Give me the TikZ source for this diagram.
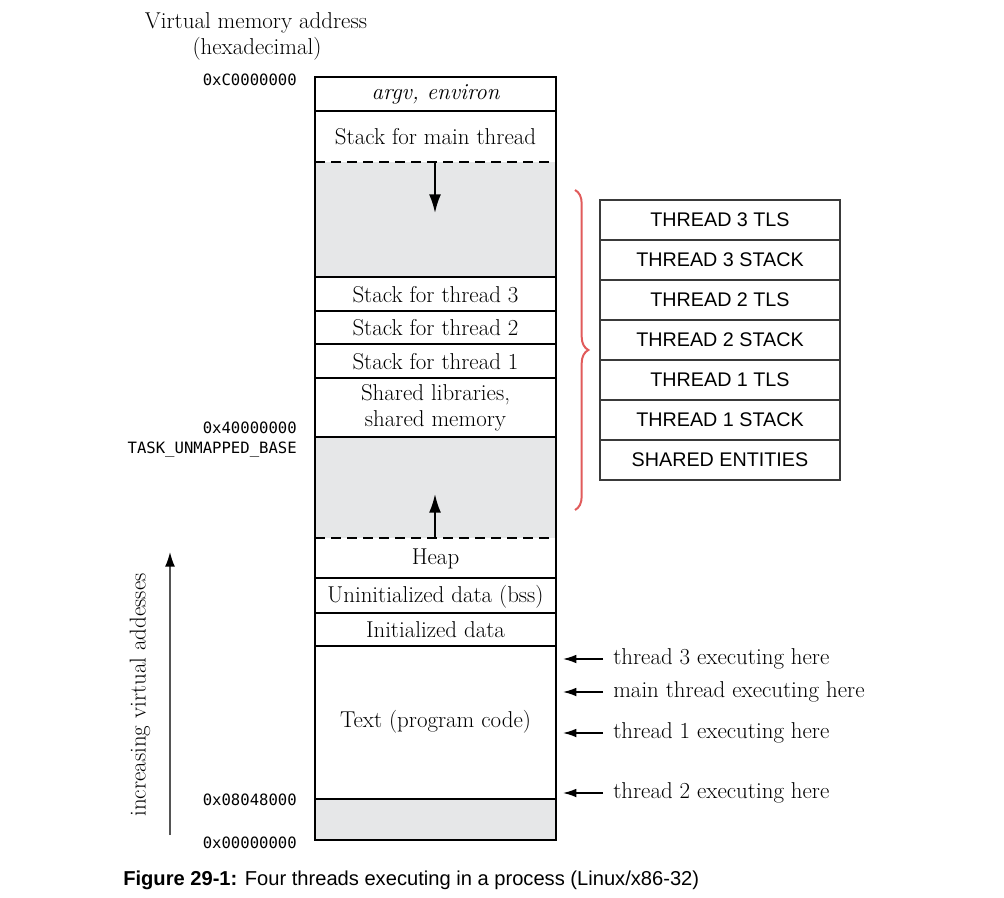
\documentclass[tikz,border=0pt]{standalone}
\usepackage{fontspec}
\setsansfont{Liberation Sans}
\setmonofont{DejaVu Sans Mono}
\usetikzlibrary{arrows.meta,decorations.pathreplacing}
\definecolor{segGray}{HTML}{E6E7E8}
\definecolor{braceRed}{HTML}{E15B5B}
\definecolor{boxLine}{HTML}{3A3A3A}
\definecolor{incGray}{HTML}{555555}
\begin{document}
\begin{tikzpicture}[x=0.75pt,y=-0.75pt,
  serif/.style={font=\fontsize{17.2}{19.5}\selectfont, inner sep=0pt, align=center},
  addr/.style={font=\ttfamily\fontsize{11.7}{14}\selectfont, anchor=east, inner sep=0pt},
  seg/.style={draw=black, line width=1.3pt},
  gapfill/.style={fill=segGray},
  dashline/.style={draw=black, line width=1.3pt, dash pattern=on 7.5pt off 4.5pt},
  tls/.style={draw=boxLine, line width=1.1pt, minimum width=180pt, minimum height=30pt, inner sep=0pt,
    font=\sffamily\fontsize{14.8}{17}\selectfont},
  arr/.style={-{Latex[length=10pt,width=6.5pt]}, line width=1.1pt},
  growarrow/.style={-{Latex[length=14pt,width=9pt]}, line width=1.5pt},
  incarr/.style={-{Latex[length=11pt,width=7.5pt,color=black]}, line width=1.2pt, draw=incGray},
  lbl/.style={font=\fontsize{17.2}{19}\selectfont, anchor=west, inner xsep=7.5pt, inner ysep=0pt}
]
\useasboundingbox (0,0) rectangle (1004,898);

% title
\node[serif] (title1) at (256,23) {Virtual memory address};
\node[serif] (title2) at (257,49) {(hexadecimal)};

% gray gaps
\fill[gapfill] (315,162) rectangle (556,277);
\fill[gapfill] (315,437) rectangle (556,538);
\fill[gapfill] (315,799) rectangle (556,840);

% column outline and separators
\draw[seg] (315,77) rectangle (556,840);
\draw[seg] (315,111) -- (556,111);
\draw[seg] (315,277) -- (556,277);
\draw[seg] (315,311) -- (556,311);
\draw[seg] (315,344) -- (556,344);
\draw[seg] (315,378) -- (556,378);
\draw[seg] (315,437) -- (556,437);
\draw[seg] (315,578) -- (556,578);
\draw[seg] (315,613) -- (556,613);
\draw[seg] (315,646) -- (556,646);
\draw[seg] (315,799) -- (556,799);
\draw[dashline] (315,162) -- (556,162);
\draw[dashline] (315,538) -- (556,538);

% segment texts
\node[serif] (argv) at (435.5,94) {\itshape argv, environ};
\node[serif] (mainstack) at (435.5,137) {Stack for main thread};
\node[serif] (st3) at (435.5,294.5) {Stack for thread 3};
\node[serif] (st2) at (435.5,328) {Stack for thread 2};
\node[serif] (st1) at (435.5,361.5) {Stack for thread 1};
\node[serif] (shlib) at (435.5,408) {Shared libraries,\\shared memory};
\node[serif] (heap) at (435.5,558.5) {Heap};
\node[serif] (bss) at (435.5,596.5) {Uninitialized data (bss)};
\node[serif] (idata) at (435.5,630) {Initialized data};
\node[serif] (text) at (435.5,722) {Text (program code)};

% growth arrows
\coordinate (downS) at (435,162);
\coordinate (downE) at (435,213);
\coordinate (upS) at (435,538);
\coordinate (upE) at (435,494);
\draw[growarrow] (downS) -- (downE);
\draw[growarrow] (upS) -- (upE);

% addresses
\node[addr] (aC) at (297,80) {0xC0000000};
\node[addr] (a4) at (297,428) {0x40000000};
\node[addr] (aT) at (297,450) {TASK\_UNMAPPED\_BASE};
\node[addr] (a08) at (297,800) {0x08048000};
\node[addr] (a00) at (297,843) {0x00000000};

% increasing addresses
\coordinate (incS) at (170,835);
\coordinate (incE) at (170,552);
\draw[incarr] (incS) -- (incE);
\node[serif, rotate=90] (inc) at (140,695) {increasing virtual addesses};

% brace
\draw[braceRed, line width=1.5pt, decorate, decoration={brace, amplitude=10pt, aspect=0.5}] (575,190) -- (575,510);

% TLS boxes
\node[tls] (b1) at (720,220) {THREAD 3 TLS};
\node[tls] (b2) at (720,260) {THREAD 3 STACK};
\node[tls] (b3) at (720,300) {THREAD 2 TLS};
\node[tls] (b4) at (720,340) {THREAD 2 STACK};
\node[tls] (b5) at (720,380) {THREAD 1 TLS};
\node[tls] (b6) at (720,420) {THREAD 1 STACK};
\node[tls] (b7) at (720,460) {SHARED ENTITIES};

% execution labels
\node[lbl] (l3) at (603,659) {thread 3 executing here};
\node[lbl] (lm) at (603,692) {main thread executing here};
\node[lbl] (l1) at (603,733) {thread 1 executing here};
\node[lbl] (l2) at (603,793) {thread 2 executing here};
\coordinate (p3) at (563,659);
\coordinate (pm) at (563,692);
\coordinate (p1) at (563,733);
\coordinate (p2) at (563,793);
\draw[arr] (l3.west) -- (p3);
\draw[arr] (lm.west) -- (pm);
\draw[arr] (l1.west) -- (p1);
\draw[arr] (l2.west) -- (p2);

% caption
\node[anchor=west, inner sep=0pt, font=\sffamily\fontsize{15.1}{18}\selectfont] (cap) at (123,880)
  {\textbf{Figure 29-1:} Four threads executing in a process (Linux/x86-32)};
\end{tikzpicture}
\end{document}
